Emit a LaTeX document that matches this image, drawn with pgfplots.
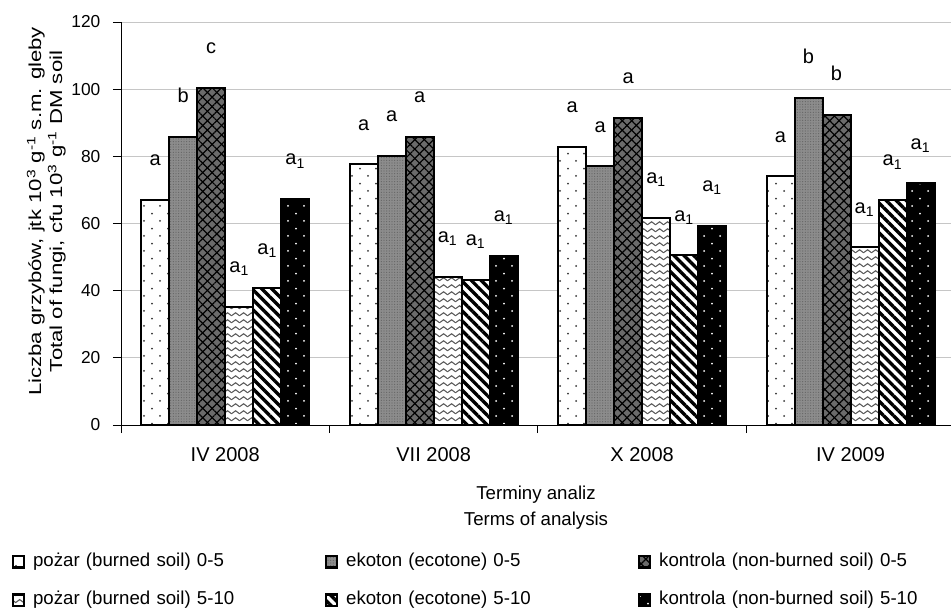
\documentclass[border=0pt]{standalone}
\usepackage{fontspec}
\setmainfont{Liberation Sans}
\usepackage{pgfplots}
\usepackage{pgfplotstable}
\pgfplotsset{compat=1.18}
\usetikzlibrary{patterns,patterns.meta}

\pgfdeclarepatternformonly{zigzag}{\pgfpoint{0pt}{0pt}}{\pgfpoint{6pt}{5.25pt}}{\pgfpoint{6pt}{5.25pt}}{
  \pgfsetlinewidth{0.9pt}
  \pgfpathmoveto{\pgfpoint{-0.5pt}{1.0pt}}
  \pgfpathlineto{\pgfpoint{3pt}{3.6pt}}
  \pgfpathlineto{\pgfpoint{6.5pt}{1.0pt}}
  \pgfusepathqstroke}
\pgfdeclarepatternformonly{sparsedots}{\pgfpoint{-1pt}{-1pt}}{\pgfpoint{13pt}{12.25pt}}{\pgfpoint{12pt}{11.25pt}}{
  \pgfpathcircle{\pgfpoint{0pt}{0pt}}{0.75pt}
  \pgfpathcircle{\pgfpoint{6pt}{5.6pt}}{0.75pt}
  \pgfusepathqfill}

\definecolor{ekgray}{gray}{0.55}
\definecolor{kogray}{gray}{0.42}

\pgfplotstableread{
x  s1    s2    s3     s4    s5    s6    l1 l2 l3 l4                 l5                 l6
0  67.0  85.8  100.4  35.2  40.7  67.3  a  b  c  a\textsubscript{1} a\textsubscript{1} a\textsubscript{1}
1  77.7  80.1  85.9   44.1  43.2  50.4  a  a  a  a\textsubscript{1} a\textsubscript{1} a\textsubscript{1}
2  82.9  77.1  91.5   61.7  50.6  59.3  a  a  a  a\textsubscript{1} a\textsubscript{1} a\textsubscript{1}
3  74.1  97.5  92.4   52.9  67.0  72.0  a  b  b  a\textsubscript{1} a\textsubscript{1} a\textsubscript{1}
}\data

\begin{document}
\begin{tikzpicture}
\useasboundingbox (0pt,0pt) rectangle (713.25pt,458.25pt);
\begin{axis}[
  at={(90.75pt,139.5pt)}, anchor=south west,
  scale only axis, width=622.5pt, height=302.25pt,
  xmin=-0.5, xmax=3.482, ymin=0, ymax=120,
  ytick={0,20,...,120},
  axis lines*=left,
  axis line style={black, line width=0.7pt},
  tick align=outside, major tick length=6pt,
  tick style={black, line width=0.7pt},
  ymajorgrids, grid style={gray!45, line width=0.7pt},
  xtick={-0.5,0.5,1.5,2.5}, xticklabels={},
  extra x ticks={0,1,2,3},
  extra x tick labels={IV 2008,VII 2008,X 2008,IV 2009},
  extra x tick style={major tick length=0pt, grid=none,
     tick label style={font=\fontsize{15}{17}\selectfont, yshift=-13.5pt}},
  yticklabel style={font=\fontsize{13}{15}\selectfont},
  yticklabel shift=6pt,
  /pgf/number format/assume math mode=true,
  xlabel={Terminy analiz\\Terms of analysis},
  xlabel style={font=\fontsize{14}{19.5}\selectfont, align=center,
     at={(axis description cs:0.5,0)}, anchor=north, yshift=-42pt},
  ylabel={\scalebox{1.28}[1]{Liczba grzybów, jtk 10\textsuperscript{3} g\textsuperscript{-1} s.m. gleby}\\
          \scalebox{1.28}[1]{Total of fungi, cfu 10\textsuperscript{3} g\textsuperscript{-1} DM soil}},
  ylabel style={font=\fontsize{13}{15.75}\selectfont, align=center,
     at={(axis description cs:-0.09,0.53)}, anchor=center},
  ybar=0pt, bar width=0.1343,
  point meta=explicit symbolic,
  nodes near coords,
  every node near coord/.append style={font=\fontsize{15}{17}\selectfont, anchor=base, yshift=25.5pt},
  legend columns=3,
  legend style={at={(axis description cs:-0.1313,-0.3201)}, anchor=north west,
     draw=none, fill=none, inner sep=0pt, outer sep=0pt, row sep=17pt,
     nodes={font=\fontsize{14}{16}\selectfont, inner xsep=6pt, inner ysep=0pt,
            text height=9pt, text depth=3pt, text width=213pt, align=left}},
  legend image code/.code={
     \draw[#1, line width=1.6pt] (0.4pt,-4.1pt) rectangle (8.6pt,4.6pt);},
]
\addplot[draw=black, line width=1.5pt, fill=white,
   postaction={pattern=sparsedots, pattern color=black!80}]
   table[x=x, y=s1, meta=l1] {\data};
\addplot[draw=black, line width=1.5pt, fill=ekgray,
   postaction={pattern={Dots[distance=2pt, radius=0.45pt]}, pattern color=black!60}]
   table[x=x, y=s2, meta=l2] {\data};
\addplot[draw=black, line width=1.5pt, fill=kogray,
   postaction={pattern={Lines[angle=45, distance=5pt, line width=0.9pt]}, pattern color=black},
   postaction={pattern={Lines[angle=-45, distance=5pt, line width=0.9pt]}, pattern color=black}]
   table[x=x, y=s3, meta=l3] {\data};
\addplot[draw=black, line width=1.5pt, fill=white,
   postaction={pattern=zigzag, pattern color=black!65}]
   table[x=x, y=s4, meta=l4] {\data};
\addplot[draw=black, line width=1.5pt, fill=white,
   postaction={pattern={Lines[angle=-45, distance=5.25pt, line width=2.5pt]}, pattern color=black}]
   table[x=x, y=s5, meta=l5] {\data};
\addplot[draw=black, line width=1.5pt, fill=black,
   postaction={pattern=sparsedots, pattern color=white}]
   table[x=x, y=s6, meta=l6] {\data};
\legend{pożar (burned soil) 0-5, ekoton (ecotone) 0-5, kontrola (non-burned soil) 0-5,
        pożar (burned soil) 5-10, ekoton (ecotone) 5-10, kontrola (non-burned soil) 5-10}
\end{axis}
\end{tikzpicture}
\end{document}
